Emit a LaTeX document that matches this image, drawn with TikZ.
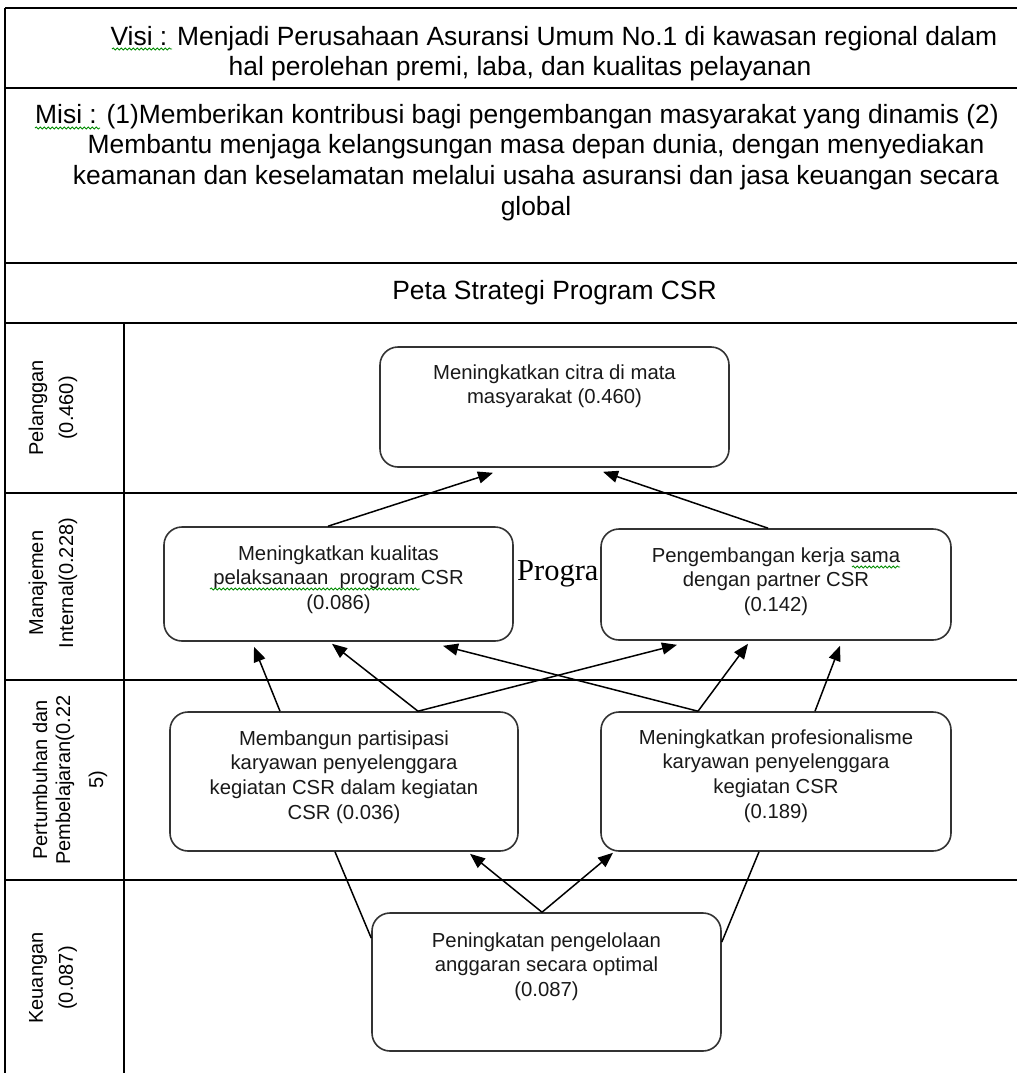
\documentclass[tikz,border=0pt]{standalone}
\usepackage{fontspec}
\setmainfont{Liberation Sans}
\newfontfamily\serifprog{Liberation Serif}
\usetikzlibrary{arrows.meta,decorations.pathmorphing,calc}
\newcommand\hdrfont{\fontsize{26.4}{30.6}\selectfont}
\newcommand\bxfont{\fontsize{20.3}{24.8}\selectfont}
\newcommand\lblfont{\fontsize{20}{30}\selectfont}
\begin{document}
\begin{tikzpicture}[x=1pt,y=-1pt,
  grid/.style={line width=1.8pt,black},
  gridthick/.style={line width=2.6pt,black},
  stratbox/.style={draw=black!80,line width=1.6pt,rounded corners=18pt,fill=white,inner sep=0pt},
  boxtext/.style={font=\bxfont,align=center,inner sep=0pt,anchor=north,text=black!90},
  hdr/.style={font=\hdrfont,align=center,inner sep=0pt},
  lbl/.style={font=\lblfont,align=center,inner sep=0pt,rotate=90},
  arr/.style={line width=1.5pt,-{Triangle[length=15pt,width=12pt]}},
  link/.style={line width=1.5pt},
  squig/.style={draw=green!55!black,line width=0.8pt,decorate,decoration={snake,amplitude=1.1pt,segment length=4pt}}]
\useasboundingbox[fill=white] (0,0) rectangle (1017,1073);

% table frame
\draw[grid] (5,8) -- (1017,8);
\draw[grid] (5,88) -- (1017,88);
\draw[grid] (5,263) -- (1017,263);
\draw[grid] (5,323) -- (1017,323);
\draw[grid] (5,493) -- (1017,493);
\draw[grid] (5,680) -- (1017,680);
\draw[grid] (5,880) -- (1017,880);
\draw[grid] (5,8) -- (5,1073);
\draw[gridthick] (124,323) -- (124,1073);
\draw[gridthick] (5,323) -- (124,323);
\draw[gridthick] (5,680) -- (124,680);
\draw[gridthick] (5,880) -- (124,880);

% header texts
\node[hdr,anchor=north] (visi) at (520,26) {\hspace*{68pt}Visi : Menjadi Perusahaan Asuransi Umum No.1 di kawasan regional dalam\\hal perolehan premi, laba, dan kualitas pelayanan};
\node[hdr,anchor=north] (misi) at (536,104) {\hspace*{-38pt}Misi : (1)Memberikan kontribusi bagi pengembangan masyarakat yang dinamis (2)\\Membantu menjaga kelangsungan masa depan dunia, dengan menyediakan\\keamanan dan keselamatan melalui usaha asuransi dan jasa keuangan secara\\global};
\node[hdr,anchor=base] (peta) at (554.5,299) {Peta Strategi Program CSR};

% perspective labels
\node[lbl] (lp) at (53,408) {Pelanggan\\(0.460)};
\node[lbl] (lm) at (53,583) {Manajemen\\Internal(0.228)};
\node[lbl,font=\fontsize{20}{23}\selectfont] (lg) at (70,780) {Pertumbuhan dan\\Pembelajaran(0.22\\[10pt]5)};
\node[lbl] (lk) at (53,978) {Keuangan\\(0.087)};

% stray text
\node[anchor=base west,inner sep=0pt,font=\serifprog\fontsize{30.5}{34}\selectfont] (prog) at (517,580) {Progra};

% boxes
\node[stratbox,minimum width=349pt,minimum height=120pt] (A) at (554.5,407) {};
\node[stratbox,minimum width=349pt,minimum height=114pt] (B) at (338.5,584) {};
\node[stratbox,minimum width=350pt,minimum height=111pt] (C) at (776,584.5) {};
\node[stratbox,minimum width=348pt,minimum height=139pt] (D) at (344,781.5) {};
\node[stratbox,minimum width=350pt,minimum height=139pt] (E) at (776,781.5) {};
\node[stratbox,minimum width=349pt,minimum height=138pt] (F) at (546.5,982) {};

\node[boxtext] (At) at ([yshift=-18pt]A.north) {Meningkatkan citra di mata\\masyarakat (0.460)};
\node[boxtext] (Bt) at ([yshift=-19pt]B.north) {Meningkatkan kualitas\\pelaksanaan\ \ program CSR\\(0.086)};
\node[boxtext] (Ct) at ([yshift=-19pt]C.north) {Pengembangan kerja sama\\dengan partner CSR\\(0.142)};
\node[boxtext] (Dt) at ([yshift=-19pt]D.north) {Membangun partisipasi\\karyawan penyelenggara\\kegiatan CSR dalam kegiatan\\CSR (0.036)};
\node[boxtext] (Et) at ([yshift=-18pt]E.north) {Meningkatkan profesionalisme\\karyawan penyelenggara\\kegiatan CSR\\(0.189)};
\node[boxtext] (Ft) at ([yshift=-20pt]F.north) {Peningkatan pengelolaan\\anggaran secara optimal\\(0.087)};

% connectors
\draw[arr] ([xshift=-10.5pt]B.north) -- ([xshift=-61.5pt,yshift=-5pt]A.south);
\draw[arr] ([xshift=-8pt]C.north) -- ([xshift=48.5pt,yshift=-4pt]A.south);
\draw[arr] ([xshift=-64pt]D.north) -- ([xshift=-84.5pt,yshift=-5pt]B.south);
\draw[arr] ([xshift=74pt]D.north) -- ([xshift=-6.5pt,yshift=-2pt]B.south);
\draw[arr] ([xshift=74pt]D.north) -- ([xshift=-99pt,yshift=-4pt]C.south);
\draw[arr] ([xshift=-78pt]E.north) -- ([xshift=104.5pt,yshift=-4pt]B.south);
\draw[arr] ([xshift=-78pt]E.north) -- ([xshift=-28pt,yshift=-3pt]C.south);
\draw[arr] ([xshift=39pt]E.north) -- ([xshift=64pt,yshift=-5pt]C.south);
\draw[arr] ([xshift=-4.5pt]F.north) -- ([xshift=126pt,yshift=-2pt]D.south);
\draw[arr] ([xshift=-4.5pt]F.north) -- ([xshift=-163pt,yshift=-1pt]E.south);
\draw[link] ([xshift=-9pt]D.south) -- ([yshift=44pt]F.west);
\draw[link] ([xshift=-17pt]E.south) -- ([yshift=40pt]F.east);

% spell-check squiggles
\draw[squig] (112,49) -- (172,49);
\draw[squig] (35,128) -- (100,128);
\draw[squig] (210,589) -- (420,589);
\draw[squig] (852,567) -- (900,567);
\end{tikzpicture}
\end{document}
